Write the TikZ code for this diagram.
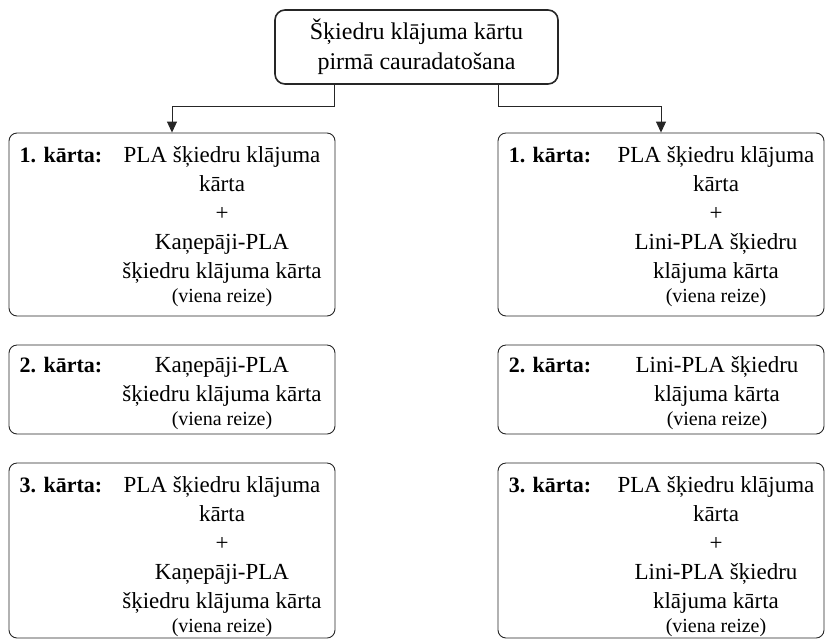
\documentclass[tikz,border=0pt]{standalone}
\usepackage{fontspec}
\setmainfont{Liberation Serif}
\usetikzlibrary{arrows.meta}
\usetikzlibrary{calc}

\tikzset{
  card/.style={draw=black!85, line width=0.9pt, rounded corners=8pt, inner sep=0pt},
  topcard/.style={draw=black!85, line width=1.6pt, rounded corners=10pt, align=center,
    font=\fontsize{24}{30}\selectfont},
  layer/.style={anchor=base west, inner sep=0pt, font=\fontsize{22}{29}\selectfont\bfseries},
  body/.style={anchor=north, inner sep=0pt, align=center, font=\fontsize{23}{29}\selectfont},
  flow/.style={draw=black!85, line width=0.9pt, -{Triangle[length=11pt,width=10pt]}}
}
\newcommand{\reizeline}{\\[-5pt]{\fontsize{20}{24}\selectfont (viena reize)}}

\begin{document}
\begin{tikzpicture}[x=1pt, y=-1pt]
    \useasboundingbox (0,0) rectangle (825,641);

    % top
    \node[topcard, minimum width=283pt, minimum height=74pt] (top) at (416.5,47)
      {Šķiedru klājuma kārtu\\pirmā cauradatošana};

    % boxes
    \node[card, minimum width=326pt, minimum height=183pt] (l1) at (172,224.5) {};
    \node[card, minimum width=326pt, minimum height=89pt] (l2) at (172,389.5) {};
    \node[card, minimum width=326pt, minimum height=175pt] (l3) at (172,550.5) {};
    \node[card, minimum width=326pt, minimum height=183pt] (r1) at (661,224.5) {};
    \node[card, minimum width=326pt, minimum height=89pt] (r2) at (661,389.5) {};
    \node[card, minimum width=326pt, minimum height=175pt] (r3) at (661,550.5) {};

    % labels
    \node[layer] (l1lab) at ([xshift=11pt,yshift=-30pt]l1.north west) {\strut 1. kārta:};
    \node[layer] (l2lab) at ([xshift=11pt,yshift=-28pt]l2.north west) {\strut 2. kārta:};
    \node[layer] (l3lab) at ([xshift=11pt,yshift=-30pt]l3.north west) {\strut 3. kārta:};
    \node[layer] (r1lab) at ([xshift=11pt,yshift=-30pt]r1.north west) {\strut 1. kārta:};
    \node[layer] (r2lab) at ([xshift=11pt,yshift=-28pt]r2.north west) {\strut 2. kārta:};
    \node[layer] (r3lab) at ([xshift=11pt,yshift=-30pt]r3.north west) {\strut 3. kārta:};

    % texts
    \node[body] (l1txt) at ($(l1lab.north -| l1.north)+(50,0)$)
      {\strut PLA šķiedru klājuma\\kārta\\+\\Kaņepāji-PLA\\šķiedru klājuma kārta\reizeline};
    \node[body] (l2txt) at ($(l2lab.north -| l2.north)+(50,0)$)
      {\strut Kaņepāji-PLA\\šķiedru klājuma kārta\reizeline};
    \node[body] (l3txt) at ($(l3lab.north -| l3.north)+(50,0)$)
      {\strut PLA šķiedru klājuma\\kārta\\+\\Kaņepāji-PLA\\šķiedru klājuma kārta\reizeline};
    \node[body] (r1txt) at ($(r1lab.north -| r1.north)+(55,0)$)
      {\strut PLA šķiedru klājuma\\kārta\\+\\Lini-PLA šķiedru\\klājuma kārta\reizeline};
    \node[body] (r2txt) at ($(r2lab.north -| r2.north)+(56,0)$)
      {\strut Lini-PLA šķiedru\\klājuma kārta\reizeline};
    \node[body] (r3txt) at ($(r3lab.north -| r3.north)+(55,0)$)
      {\strut PLA šķiedru klājuma\\kārta\\+\\Lini-PLA šķiedru\\klājuma kārta\reizeline};

    % arrows
    \draw[flow] ([xshift=-82pt]top.south) -- ++(0,22) -| (l1.north);
    \draw[flow] ([xshift=82pt]top.south) -- ++(0,22) -| (r1.north);
\end{tikzpicture}
\end{document}
